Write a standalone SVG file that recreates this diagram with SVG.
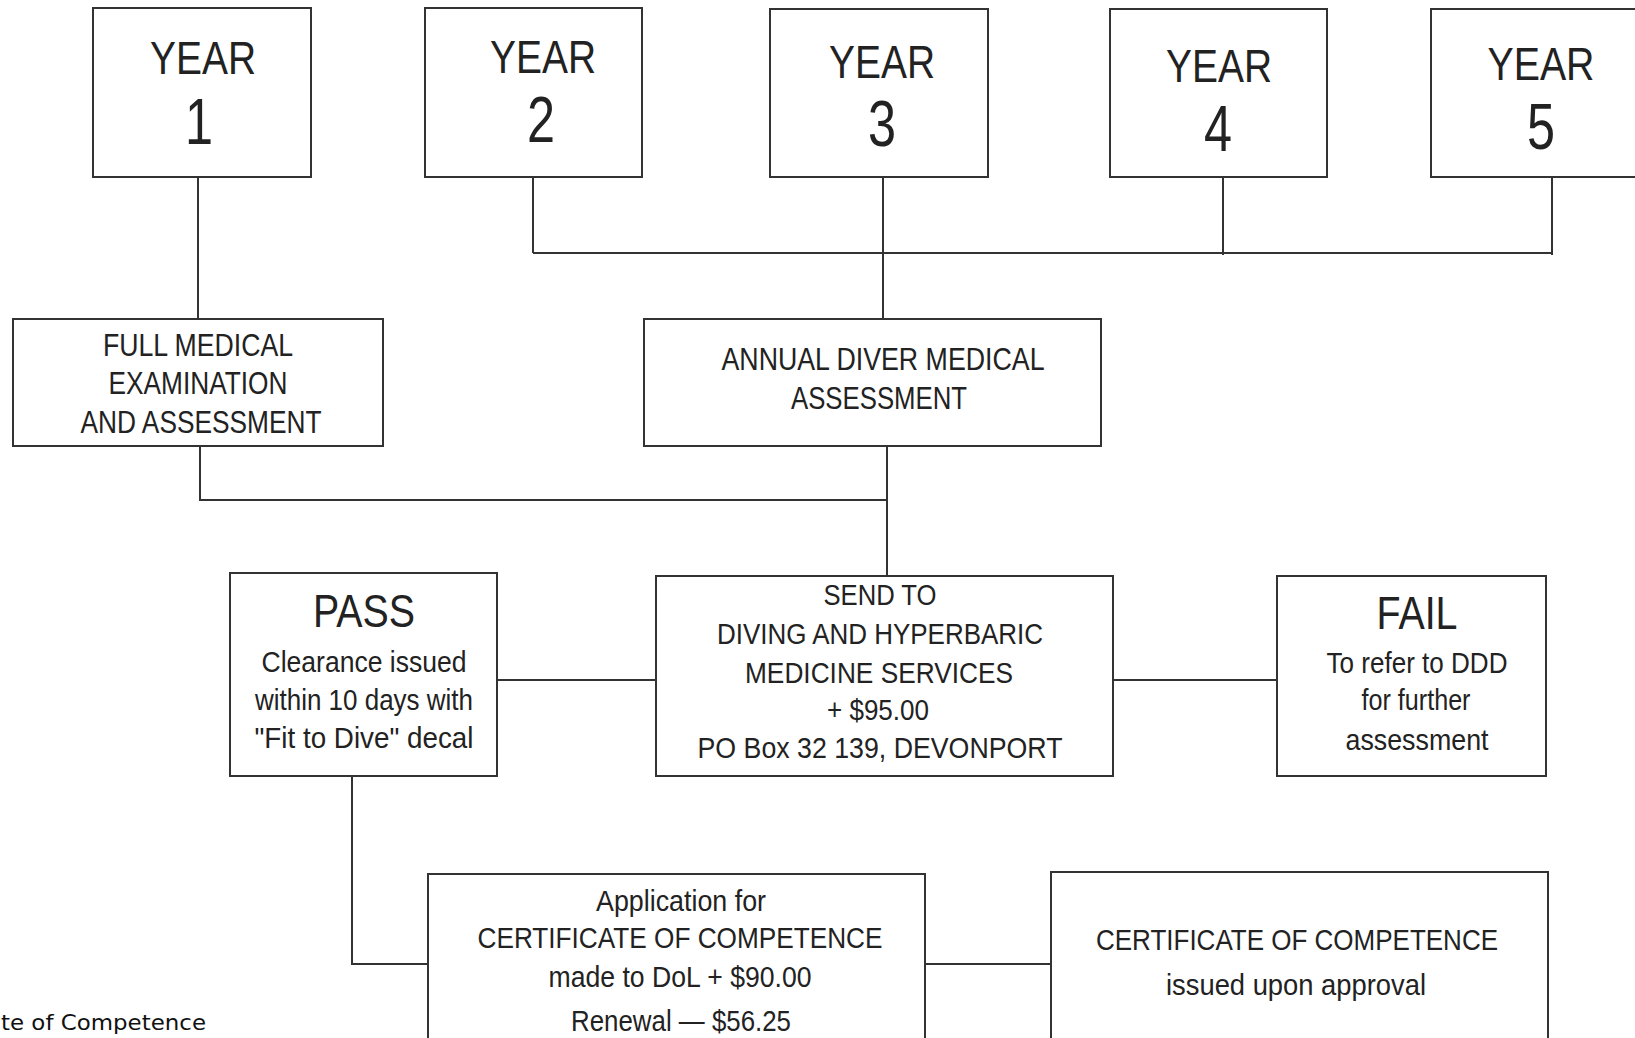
<svg xmlns="http://www.w3.org/2000/svg" width="1635" height="1038" viewBox="0 0 1635 1038">
<style>
.box{fill:#fff;stroke:#333;stroke-width:2}
.ln{fill:none;stroke:#333;stroke-width:2}
text{font-family:"Liberation Sans",Arial,sans-serif;fill:#222;text-anchor:middle}
.yr{font-size:47px}
.dg{font-size:64px}
.big{font-size:47px}
.t32{font-size:32px}
.t28{font-size:29px}
.cap{font-family:"DejaVu Sans",Verdana,sans-serif;font-size:22px;text-anchor:start;fill:#111}
</style>
<rect width="1635" height="1038" fill="#fff"/>
<g id="connectors">
<path class="ln" d="M198,177V319"/>
<path class="ln" d="M533,177V253M1223,177V255M1552,177V255M533,253H1552"/>
<path class="ln" d="M883,177V319"/>
<path class="ln" d="M200,446V500H887"/>
<path class="ln" d="M887,446V576"/>
<path class="ln" d="M497,680H656"/>
<path class="ln" d="M1113,680H1277"/>
<path class="ln" d="M352,776V964H428"/>
<path class="ln" d="M925,964H1051"/>
</g>
<g id="year1">
<rect class="box" x="93" y="8" width="218" height="169"/>
<text class="yr" x="203" y="74" textLength="106" lengthAdjust="spacingAndGlyphs">YEAR</text>
<text class="dg" x="199" y="144" textLength="28" lengthAdjust="spacingAndGlyphs">1</text>
</g>
<g id="year2">
<rect class="box" x="425" y="8" width="217" height="169"/>
<text class="yr" x="543" y="73" textLength="106" lengthAdjust="spacingAndGlyphs">YEAR</text>
<text class="dg" x="541" y="142" textLength="28" lengthAdjust="spacingAndGlyphs">2</text>
</g>
<g id="year3">
<rect class="box" x="770" y="9" width="218" height="168"/>
<text class="yr" x="882" y="78" textLength="106" lengthAdjust="spacingAndGlyphs">YEAR</text>
<text class="dg" x="882" y="146" textLength="28" lengthAdjust="spacingAndGlyphs">3</text>
</g>
<g id="year4">
<rect class="box" x="1110" y="9" width="217" height="168"/>
<text class="yr" x="1219" y="82" textLength="106" lengthAdjust="spacingAndGlyphs">YEAR</text>
<text class="dg" x="1218" y="151" textLength="28" lengthAdjust="spacingAndGlyphs">4</text>
</g>
<g id="year5">
<rect class="box" x="1431" y="9" width="230" height="168"/>
<text class="yr" x="1541" y="80" textLength="107" lengthAdjust="spacingAndGlyphs">YEAR</text>
<text class="dg" x="1541" y="149" textLength="28" lengthAdjust="spacingAndGlyphs">5</text>
</g>
<g id="full-medical">
<rect class="box" x="13" y="319" width="370" height="127"/>
<text class="t32" x="198" y="356" textLength="190" lengthAdjust="spacingAndGlyphs">FULL MEDICAL</text>
<text class="t32" x="198" y="394" textLength="179" lengthAdjust="spacingAndGlyphs">EXAMINATION</text>
<text class="t32" x="201" y="433" textLength="241" lengthAdjust="spacingAndGlyphs">AND ASSESSMENT</text>
</g>
<g id="annual">
<rect class="box" x="644" y="319" width="457" height="127"/>
<text class="t32" x="883" y="370" textLength="323" lengthAdjust="spacingAndGlyphs">ANNUAL DIVER MEDICAL</text>
<text class="t32" x="879" y="409" textLength="176" lengthAdjust="spacingAndGlyphs">ASSESSMENT</text>
</g>
<g id="pass">
<rect class="box" x="230" y="573" width="267" height="203"/>
<text class="big" x="364" y="627" textLength="102" lengthAdjust="spacingAndGlyphs">PASS</text>
<text class="t28" x="364" y="672" textLength="205" lengthAdjust="spacingAndGlyphs">Clearance  issued</text>
<text class="t28" x="364" y="710" textLength="218" lengthAdjust="spacingAndGlyphs">within 10 days with</text>
<text class="t28" x="364" y="748" textLength="219" lengthAdjust="spacingAndGlyphs">"Fit  to Dive" decal</text>
</g>
<g id="send">
<rect class="box" x="656" y="576" width="457" height="200"/>
<text class="t28" x="880" y="605" textLength="113" lengthAdjust="spacingAndGlyphs">SEND TO</text>
<text class="t28" x="880" y="644" textLength="326" lengthAdjust="spacingAndGlyphs">DIVING AND HYPERBARIC</text>
<text class="t28" x="879" y="683" textLength="268" lengthAdjust="spacingAndGlyphs">MEDICINE  SERVICES</text>
<text class="t28" x="878" y="720" textLength="102" lengthAdjust="spacingAndGlyphs">+ $95.00</text>
<text class="t28" x="880" y="758" textLength="365" lengthAdjust="spacingAndGlyphs">PO Box  32 139, DEVONPORT</text>
</g>
<g id="fail">
<rect class="box" x="1277" y="576" width="269" height="200"/>
<text class="big" x="1417" y="629" textLength="81" lengthAdjust="spacingAndGlyphs">FAIL</text>
<text class="t28" x="1417" y="673" textLength="181" lengthAdjust="spacingAndGlyphs">To refer to DDD</text>
<text class="t28" x="1416" y="710" textLength="109" lengthAdjust="spacingAndGlyphs">for further</text>
<text class="t28" x="1417" y="750" textLength="143" lengthAdjust="spacingAndGlyphs">assessment</text>
</g>
<g id="application">
<rect class="box" x="428" y="874" width="497" height="200"/>
<text class="t28" x="681" y="911" textLength="170" lengthAdjust="spacingAndGlyphs">Application  for</text>
<text class="t28" x="680" y="948" textLength="405" lengthAdjust="spacingAndGlyphs">CERTIFICATE OF COMPETENCE</text>
<text class="t28" x="680" y="987" textLength="263" lengthAdjust="spacingAndGlyphs">made to DoL + $90.00</text>
<text class="t28" x="681" y="1031" textLength="220" lengthAdjust="spacingAndGlyphs">Renewal — $56.25</text>
</g>
<g id="certificate">
<rect class="box" x="1051" y="872" width="497" height="200"/>
<text class="t28" x="1297" y="950" textLength="402" lengthAdjust="spacingAndGlyphs">CERTIFICATE OF COMPETENCE</text>
<text class="t28" x="1296" y="995" textLength="260" lengthAdjust="spacingAndGlyphs">issued  upon  approval</text>
</g>
<text class="cap" x="1" y="1030" textLength="205" lengthAdjust="spacingAndGlyphs">te of Competence</text>
</svg>
